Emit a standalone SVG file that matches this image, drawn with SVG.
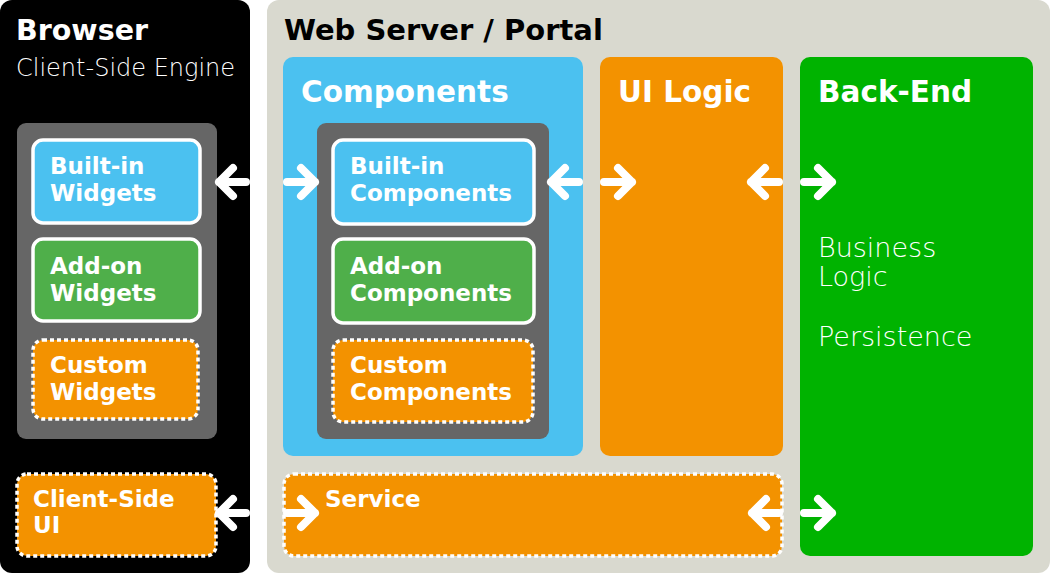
<svg xmlns="http://www.w3.org/2000/svg" width="1050" height="573" viewBox="0 0 1050 573">
<style>
.hb{font-family:"DejaVu Sans","Liberation Sans",sans-serif;font-weight:bold;fill:#fff}
.hd{font-size:29.5px}
.lb{font-size:23px}
.lt{font-family:"DejaVu Sans","Liberation Sans",sans-serif;font-weight:200;fill:#fff}
.solid{stroke:#fff;stroke-width:3.5}
.dot{stroke:#fff;stroke-width:3.5;stroke-dasharray:4 3}
.arr{fill:none;stroke:#fff;stroke-width:8;stroke-linecap:round;stroke-linejoin:round}
</style>
<rect width="1050" height="573" fill="#fff"/>
<g id="browser">
<rect x="0" y="0" width="250" height="573" rx="12" fill="#000"/>
<text class="hb" x="16" y="39.5" font-size="28.5">Browser</text>
<text class="lt" x="16" y="76" font-size="24">Client-Side Engine</text>
</g>
<g id="webserver">
<rect x="267" y="0" width="783" height="573" rx="12" fill="#d9d9cf"/>
<text class="hb" x="284" y="40" font-size="29" style="fill:#000">Web Server / Portal</text>
</g>
<g id="widgets-group">
<rect x="17" y="123" width="200" height="316" rx="9" fill="#666"/>
</g>
<g id="builtin-widgets">
<rect class="solid" x="33" y="140" width="167" height="83" rx="10" fill="#4bc1f0"/>
<text class="hb lb" x="50" y="174">Built-in</text>
<text class="hb lb" x="50" y="201">Widgets</text>
</g>
<g id="addon-widgets">
<rect class="solid" x="33" y="239" width="167" height="82" rx="10" fill="#4faf4a"/>
<text class="hb lb" x="50" y="274">Add-on</text>
<text class="hb lb" x="50" y="301">Widgets</text>
</g>
<g id="custom-widgets">
<rect class="dot" x="33" y="340" width="165" height="79" rx="10" fill="#f39200"/>
<text class="hb lb" x="50" y="373">Custom</text>
<text class="hb lb" x="50" y="400">Widgets</text>
</g>
<g id="client-side-ui">
<rect class="dot" x="17" y="474" width="199" height="82" rx="10" fill="#f39200"/>
<text class="hb lb" x="33" y="507">Client-Side</text>
<text class="hb lb" x="33" y="533">UI</text>
</g>
<g id="components">
<rect x="283" y="57" width="300" height="399" rx="10" fill="#4bc1f0"/>
<text class="hb hd" x="301" y="102">Components</text>
<rect x="317" y="123" width="232" height="316" rx="9" fill="#666"/>
</g>
<g id="builtin-components">
<rect class="solid" x="333" y="140" width="201" height="84" rx="10" fill="#4bc1f0"/>
<text class="hb lb" x="350" y="174">Built-in</text>
<text class="hb lb" x="350" y="201">Components</text>
</g>
<g id="addon-components">
<rect class="solid" x="333" y="239" width="201" height="84" rx="10" fill="#4faf4a"/>
<text class="hb lb" x="350" y="274">Add-on</text>
<text class="hb lb" x="350" y="301">Components</text>
</g>
<g id="custom-components">
<rect class="dot" x="333" y="340" width="200" height="82" rx="10" fill="#f39200"/>
<text class="hb lb" x="350" y="373">Custom</text>
<text class="hb lb" x="350" y="400">Components</text>
</g>
<g id="ui-logic">
<rect x="600" y="57" width="183" height="399" rx="10" fill="#f39200"/>
<text class="hb hd" x="618" y="102">UI Logic</text>
</g>
<g id="back-end">
<rect x="800" y="57" width="233" height="499" rx="10" fill="#00b300"/>
<text class="hb hd" x="818" y="102">Back-End</text>
<text class="lt" x="818" y="257" font-size="27">Business</text>
<text class="lt" x="818" y="286" font-size="27">Logic</text>
<text class="lt" x="818" y="346" font-size="27">Persistence</text>
</g>
<g id="service">
<rect class="dot" x="284" y="474" width="498" height="82" rx="10" fill="#f39200"/>
<text class="hb lb" x="325" y="507">Service</text>
</g>
<g id="connectors" class="arr">
<path d="M246,182 H219 M233,168 L219,182 L233,196"/>
<path d="M287,182 H315 M301,168 L315,182 L301,196"/>
<path d="M579,182 H551 M565,168 L551,182 L565,196"/>
<path d="M604,182 H632 M618,168 L632,182 L618,196"/>
<path d="M779,182 H751 M765,168 L751,182 L765,196"/>
<path d="M804,182 H832 M818,168 L832,182 L818,196"/>
<path d="M246,513 H219 M233,499 L219,513 L233,527"/>
<path d="M287,513 H315 M301,499 L315,513 L301,527"/>
<path d="M779,513 H752 M766,499 L752,513 L766,527"/>
<path d="M804,513 H832 M818,499 L832,513 L818,527"/>
</g>
</svg>
